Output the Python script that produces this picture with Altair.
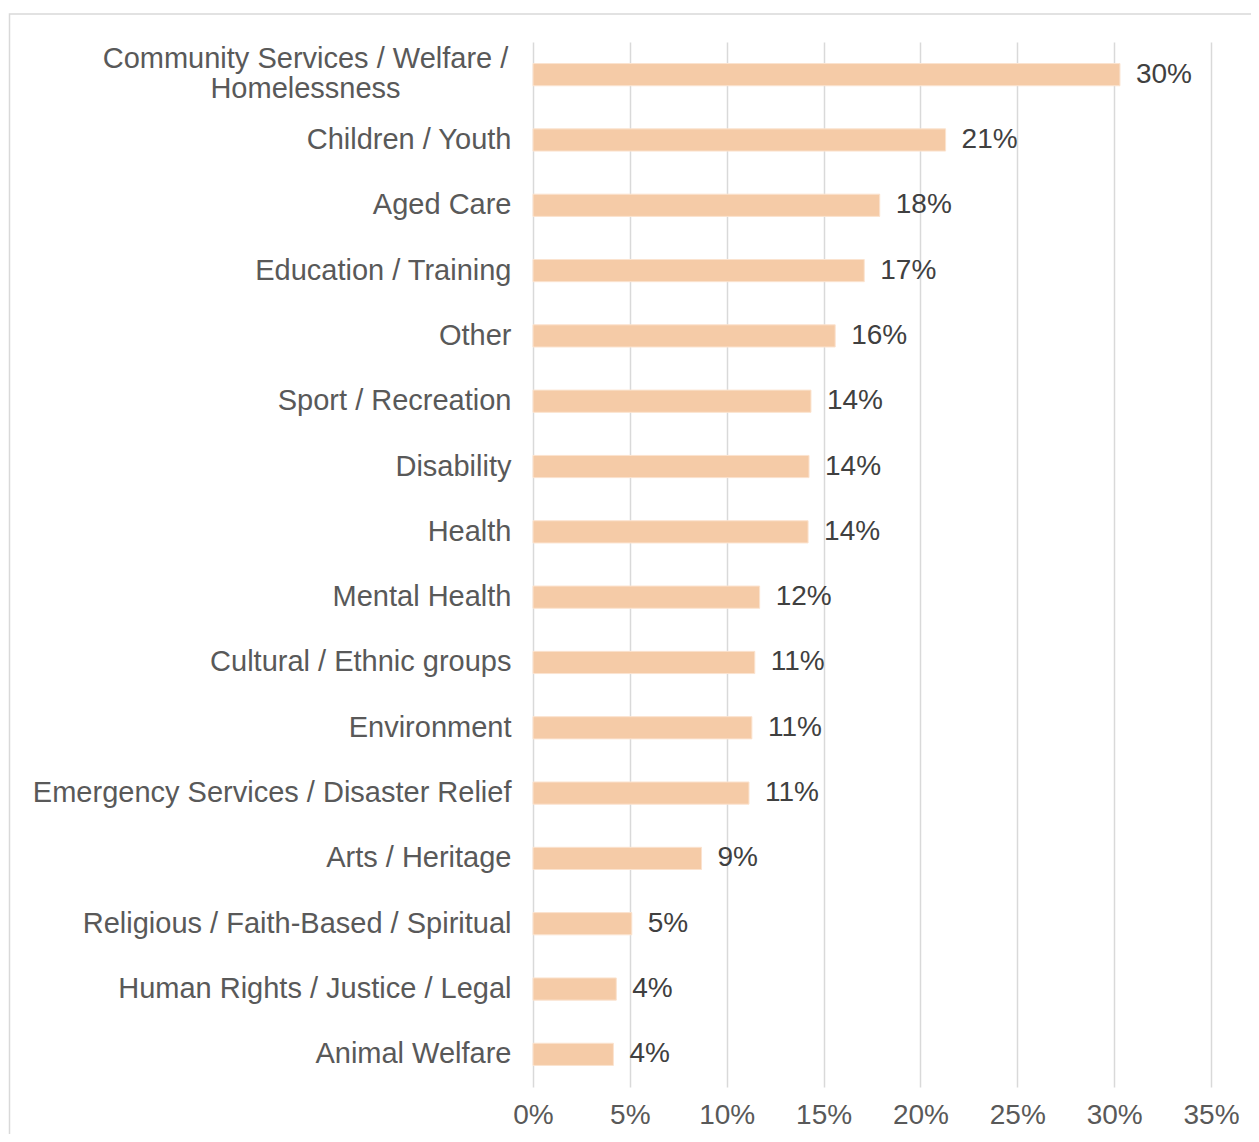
import altair as alt
import pandas as pd

categories = [
    "Community Services / Welfare /|Homelessness",
    "Children / Youth",
    "Aged Care",
    "Education / Training",
    "Other",
    "Sport / Recreation",
    "Disability",
    "Health",
    "Mental Health",
    "Cultural / Ethnic groups",
    "Environment",
    "Emergency Services / Disaster Relief",
    "Arts / Heritage",
    "Religious / Faith-Based / Spiritual",
    "Human Rights / Justice / Legal",
    "Animal Welfare",
]
values = [0.303, 0.213, 0.179, 0.171, 0.156, 0.1435, 0.1425, 0.142,
          0.117, 0.1145, 0.113, 0.1115, 0.087, 0.051, 0.043, 0.0415]
value_labels = ["30%", "21%", "18%", "17%", "16%", "14%", "14%", "14%",
                "12%", "11%", "11%", "11%", "9%", "5%", "4%", "4%"]
x_ticks = [0, 0.05, 0.10, 0.15, 0.20, 0.25, 0.30, 0.35]

df = pd.DataFrame({"cat": categories, "val": values, "lab": value_labels})

FONT = "Liberation Sans"
TEST = "indexof(datum.value, '|') >= 0"

y_enc = alt.Y(
    "cat:N", sort=None, title=None,
    scale=alt.Scale(paddingInner=0.66, paddingOuter=0.33),
    axis=alt.Axis(
        labelExpr="split(datum.value, '|')",
        labelFont=FONT, labelFontSize=29, labelColor="#595959",
        labelPadding={"condition": {"test": TEST, "value": 228}, "value": 22},
        labelAlign={"condition": {"test": TEST, "value": "center"}, "value": "right"},
        labelOffset={"condition": {"test": TEST, "value": -16}, "value": 0},
        labelLineHeight=30, ticks=False, domain=False,
        labelLimit=600,
    ),
)
x_enc = alt.X(
    "val:Q", title=None,
    scale=alt.Scale(domain=[0, 0.35], nice=False),
    axis=alt.Axis(
        values=x_ticks, format=".0%", labelFont=FONT, labelFontSize=28,
        labelColor="#595959", labelPadding=14, ticks=False, domain=False,
        labelFlush=False,
        grid=True, gridColor="#d9d9d9", gridWidth=1.5,
    ),
)

base = alt.Chart(df)
bars = base.mark_bar(color="#f5cba7", stroke="#fbe3cf", strokeWidth=1).encode(x=x_enc, y=y_enc)
texts = base.mark_text(align="left", baseline="middle", dx=16, font=FONT,
                       fontSize=28, color="#404040").encode(
    x="val:Q", y=alt.Y("cat:N", sort=None), text="lab:N")

border = alt.Chart(pd.DataFrame({"a": [0]})).mark_rect(
    fillOpacity=0, stroke="#d9d9d9", strokeWidth=1.5
).encode(x=alt.value(-523.5), x2=alt.value(760), y=alt.value(-28), y2=alt.value(1200))

chart = alt.layer(border, bars, texts).properties(
    width=678, height=1045,
    autosize=alt.AutoSizeParams(type="none"),
    padding={"left": 525, "top": 34, "right": 40, "bottom": 47},
).configure(background="white").configure_view(stroke=None)

chart.save("out.html", embed_options={"renderer": "svg", "actions": False})
